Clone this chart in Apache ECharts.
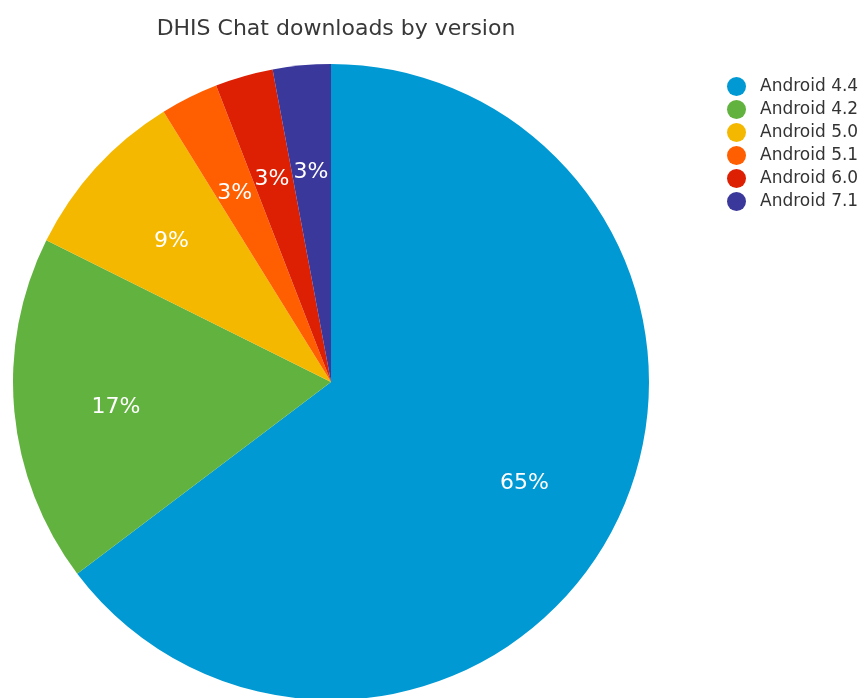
<!DOCTYPE html>
<html>
<head>
<meta charset="utf-8">
<script src="https://cdn.jsdelivr.net/npm/echarts@6/dist/echarts.min.js"></script>
<style>html,body{margin:0;padding:0;background:#fff;}#chart{width:864px;height:698px;}</style>
</head>
<body>
<div id="chart"></div>
<script>
const categories = ['Android 4.4', 'Android 4.2', 'Android 5.0', 'Android 5.1', 'Android 6.0', 'Android 7.1'];
const downloads = [22, 6, 3, 1, 1, 1];
const colors = ['#0099d3', '#62b23f', '#f5b800', '#ff5f00', '#dd2003', '#3b389c'];
const titleText = 'DHIS Chat downloads by version';

const data = categories.map((name, i) => ({ name: name, value: downloads[i] }));
const font = '"DejaVu Sans", Helvetica, Arial, sans-serif';

const chart = echarts.init(document.getElementById('chart'));
chart.setOption({
  animation: false,
  color: colors,
  title: {
    text: titleText,
    left: 331,
    textAlign: 'center',
    top: 13,
    textStyle: { fontFamily: font, fontSize: 22, fontWeight: 'normal', color: '#383838' }
  },
  legend: {
    orient: 'vertical',
    left: 722,
    top: 72,
    icon: 'circle',
    itemWidth: 19,
    itemHeight: 19,
    itemGap: 4,
    textStyle: { fontFamily: font, fontSize: 17, color: '#333', padding: [0, 0, 0, 9] },
    data: categories
  },
  series: [
    {
      type: 'pie',
      center: [331, 382],
      radius: [0, 318],
      startAngle: 90,
      clockwise: true,
      label: { show: false },
      labelLine: { show: false },
      emphasis: { disabled: true },
      data: data
    },
    {
      type: 'pie',
      center: [331, 382],
      radius: [108, 318],
      startAngle: 90,
      clockwise: true,
      silent: true,
      percentPrecision: 0,
      itemStyle: { color: 'transparent' },
      label: {
        show: true,
        position: 'inside',
        formatter: '{d}%',
        color: '#fff',
        fontFamily: font,
        fontSize: 22
      },
      labelLayout: { dy: 5 },
      labelLine: { show: false },
      emphasis: { disabled: true },
      data: data
    }
  ]
});
</script>
</body>
</html>
